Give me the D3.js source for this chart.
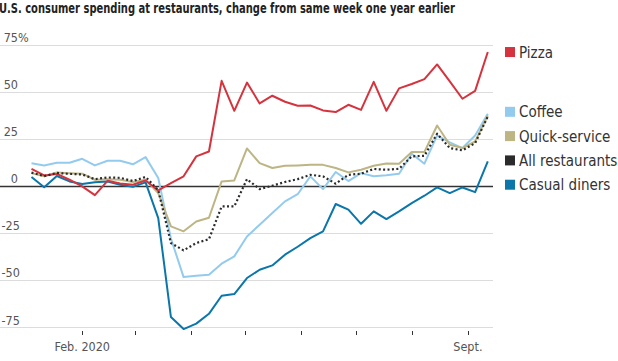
<!DOCTYPE html>
<meta charset="utf-8">
<style>
body { margin: 0; background: #fff; }
svg text { font-family: "Liberation Sans Narrow", "DejaVu Sans Condensed", "Liberation Sans", sans-serif; }
.grid line { stroke: #dcdcdc; stroke-width: 1; }
.ytick { font-size: 12.5px; fill: #555; }
.xtick { font-size: 12.5px; fill: #555; }
.legend text { font-size: 15px; fill: #333; }
.series { fill: none; stroke-width: 2; stroke-linejoin: round; }
</style>
<svg width="618" height="361"></svg>
<script src="https://cdn.jsdelivr.net/npm/d3@7"></script>
<script>

// weekly, first week ending Jan. 4 2020, 37 weeks
var firstWeek = new Date(2020, 0, 4);

var pizza = [9, 5.5, 6.3, 3.2, -0.3, -5, 2.6, 1.2, 0.5, 2.8, -2.5, 1.4, 5, 15.6, 18.2,
  55.7, 39.8, 54.8, 43.7, 47.8, 44.6, 42.5, 42.6, 40, 39.1, 43, 40.3, 55.2, 39.8,
  51.7, 54, 56.6, 64.4, 55.4, 46.2, 50.4, 71];
var coffee = [12, 10.8, 12.2, 12.2, 14.3, 10.8, 13.3, 13.3, 11.4, 15.2, 4.1, -28, -48.5, -47.8, -47.2,
  -41.4, -37.5, -26.9, -20.7, -14.5, -8.3, -4.5, 5, -1.8, 7.3, 2.5, 6.7, 5, 5.6,
  6.4, 17, 11.7, 26.7, 23, 20, 26.7, 38.2];
var quickService = [6.7, 5, 7.1, 6.7, 6.4, 3.2, 3.5, 3.2, 2, 3.2, -3.9, -21.6, -24.2, -19, -17,
  2.3, 2.8, 19.8, 12, 9.4, 10.6, 10.8, 11.1, 11.1, 9.4, 7.1, 8.5, 10.6, 11.8,
  11.7, 17.9, 17.9, 32, 21.8, 20, 23.5, 37.3];
var allRestaurants = [7, 5.1, 6.8, 6.3, 6, 3.5, 4.4, 4.2, 2.5, 4.7, -2.3, -30.4, -34.3, -30.4, -28.4,
  -11, -11, 3.5, -1.8, 0, 2, 3.5, 5.8, 5, 1.1, 5.8, 6.4, 8.9, 8.5,
  9, 15.6, 15.9, 27.6, 20, 18.8, 22.6, 36.8];
var casualDiners = [4.6, -0.8, 5.2, 2.3, 0.9, 1.9, 2.3, 0.5, -0.6, 1.8, -17.2, -69.7, -76.1, -73.2, -68,
  -58.4, -57.5, -49, -44.6, -42.3, -36.6, -32.4, -27.8, -24.2, -9.7, -12.7, -20.2, -13.6, -17.7,
  -13.6, -9.2, -5.3, -0.9, -3.9, -0.9, -3.4, 12.9];

var seriesNames = ["Coffee", "Quick-service", "Casual diners", "Pizza", "All restaurants"];
var seriesValues = [coffee, quickService, casualDiners, pizza, allRestaurants];
var seriesColors = ["#93cbee", "#bdb584", "#0a76aa", "#d5333d", "#2b2b2b"];

var yTickValues = [75, 50, 25, 0, -25, -50, -75];
var xTickLabels = {"1": "Feb. 2020", "8": "Sept."};

var svg = d3.select("svg");

var dates = d3.range(pizza.length).map(function(i) { return d3.timeDay.offset(firstWeek, 7 * i); });

var x = d3.scaleTime()
    .domain([dates[0], dates[dates.length - 1]])
    .range([31.5, 487.8]);

var y = d3.scaleLinear()
    .domain([-75, 75])
    .range([327, 44.5]);

var plotRight = 493;

svg.append("text")
    .attr("x", -1)
    .attr("y", 13)
    .attr("textLength", 456)
    .attr("lengthAdjust", "spacingAndGlyphs")
    .style("font-size", "14px")
    .style("font-weight", "bold")
    .style("fill", "#222")
    .text("U.S. consumer spending at restaurants, change from same week one year earlier");

// grid
var grid = svg.append("g").attr("class", "grid");
grid.selectAll("line")
  .data(yTickValues)
  .enter().append("line")
    .attr("x1", 0)
    .attr("x2", plotRight)
    .attr("y1", function(d) { return Math.round(y(d)) + 0.5; })
    .attr("y2", function(d) { return Math.round(y(d)) + 0.5; })
    .style("stroke", function(d) { return d === 0 ? "#333" : null; })
    .style("stroke-width", function(d) { return d === 0 ? 1.3 : null; });

svg.append("g").selectAll("text")
  .data(yTickValues)
  .enter().append("text")
    .attr("class", "ytick")
    .attr("x", function(d) { return d < 0 ? 1.5 : 18; })
    .attr("y", function(d) { return y(d) - 2.5; })
    .attr("text-anchor", function(d) { return d < 0 ? "start" : "end"; })
    .text(function(d) { return d; });

svg.append("text")
    .attr("class", "ytick")
    .attr("x", 18)
    .attr("y", y(75) - 2.5)
    .text("%");

// x ticks
var months = d3.timeMonth.range(new Date(2020, 1, 1), new Date(2020, 8, 2));
var xt = svg.append("g");
xt.selectAll("line")
  .data(months)
  .enter().append("line")
    .attr("x1", function(d) { return Math.round(x(d)) + 0.5; })
    .attr("x2", function(d) { return Math.round(x(d)) + 0.5; })
    .attr("y1", 331)
    .attr("y2", 335)
    .style("stroke", "#333")
    .style("stroke-width", 1);

xt.selectAll("text")
  .data(months.filter(function(d) { return xTickLabels[d.getMonth()]; }))
  .enter().append("text")
    .attr("class", "xtick")
    .attr("x", function(d) { return x(d); })
    .attr("y", 351)
    .attr("text-anchor", "middle")
    .text(function(d) { return xTickLabels[d.getMonth()]; });

// lines
var line = d3.line()
    .x(function(d, i) { return x(dates[i]); })
    .y(function(d) { return y(d); });

svg.append("g").selectAll("path")
  .data(seriesValues)
  .enter().append("path")
    .attr("class", "series")
    .attr("d", line)
    .style("stroke", function(d, i) { return seriesColors[i]; })
    .style("stroke-width", function(d, i) { return seriesNames[i] === "All restaurants" ? 2.2 : 2; })
    .style("stroke-dasharray", function(d, i) { return seriesNames[i] === "All restaurants" ? "2 2.4" : null; });

// legend, placed next to last values and pushed apart
var legendItems = seriesNames.map(function(name, i) {
  return {name: name, color: seriesColors[i], y: y(seriesValues[i][seriesValues[i].length - 1])};
}).sort(function(a, b) { return a.y - b.y; });

var gap = 24.3;
legendItems.forEach(function(d, i) {
  if (i > 0) d.y = Math.max(d.y, legendItems[i - 1].y + gap);
});
legendItems[1].y -= 2;
for (var k = 2; k < legendItems.length; k++) legendItems[k].y = legendItems[k - 1].y + gap;

var legend = svg.append("g").attr("class", "legend")
  .selectAll("g")
  .data(legendItems)
  .enter().append("g")
    .attr("transform", function(d) { return "translate(505," + d.y + ")"; });

legend.append("rect")
    .attr("x", 0)
    .attr("y", -5)
    .attr("width", 10)
    .attr("height", 10)
    .style("fill", function(d) { return d.color; });

legend.append("text")
    .attr("x", 14)
    .attr("y", 5.5)
    .text(function(d) { return d.name; });

</script>
